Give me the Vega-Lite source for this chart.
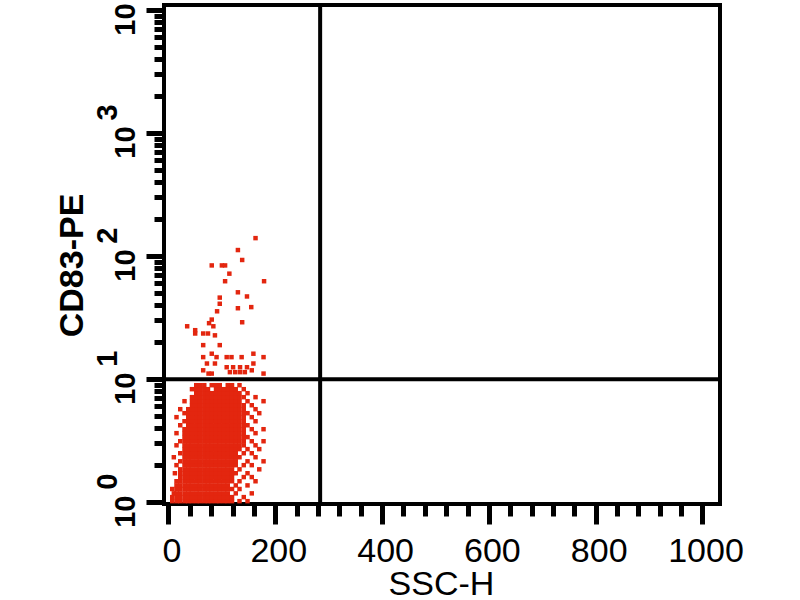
{
"$schema": "https://vega.github.io/schema/vega-lite/v6.json",
"width": 556, "height": 499,
"autosize": "none",
"padding": {"left": 164, "top": 5, "right": 80, "bottom": 96},
"background": "white",
"config": {"view": {"stroke": "black", "strokeWidth": 4}, "axis": {"grid": false, "domain": false, "tickColor": "black", "tickWidth": 5, "labelColor": "black", "titleColor": "black"}},
"resolve": {"axis": {"x": "independent", "y": "independent"}},
"layer": [
{
"data": {"values": [
{"ssc":7,"cd83":1.02},{"ssc":15,"cd83":1.02},{"ssc":22,"cd83":1.02},{"ssc":30,"cd83":1.02},{"ssc":37,"cd83":1.02},{"ssc":44,"cd83":1.02},{"ssc":52,"cd83":1.02},{"ssc":59,"cd83":1.02},{"ssc":67,"cd83":1.02},{"ssc":74,"cd83":1.02},{"ssc":81,"cd83":1.02},{"ssc":89,"cd83":1.02},{"ssc":96,"cd83":1.02},{"ssc":104,"cd83":1.02},{"ssc":111,"cd83":1.02},{"ssc":119,"cd83":1.02},{"ssc":133,"cd83":1.02},{"ssc":148,"cd83":1.02},
{"ssc":7,"cd83":1.1},{"ssc":15,"cd83":1.1},{"ssc":22,"cd83":1.1},{"ssc":30,"cd83":1.1},{"ssc":37,"cd83":1.1},{"ssc":44,"cd83":1.1},{"ssc":52,"cd83":1.1},{"ssc":59,"cd83":1.1},{"ssc":67,"cd83":1.1},{"ssc":74,"cd83":1.1},{"ssc":81,"cd83":1.1},{"ssc":89,"cd83":1.1},{"ssc":96,"cd83":1.1},{"ssc":104,"cd83":1.1},{"ssc":111,"cd83":1.1},{"ssc":119,"cd83":1.1},{"ssc":141,"cd83":1.1},
{"ssc":10,"cd83":1.18},{"ssc":15,"cd83":1.18},{"ssc":22,"cd83":1.18},{"ssc":30,"cd83":1.18},{"ssc":37,"cd83":1.18},{"ssc":44,"cd83":1.18},{"ssc":52,"cd83":1.18},{"ssc":59,"cd83":1.18},{"ssc":67,"cd83":1.18},{"ssc":74,"cd83":1.18},{"ssc":81,"cd83":1.18},{"ssc":89,"cd83":1.18},{"ssc":96,"cd83":1.18},{"ssc":104,"cd83":1.18},{"ssc":111,"cd83":1.18},{"ssc":126,"cd83":1.18},{"ssc":156,"cd83":1.18},
{"ssc":7,"cd83":1.28},{"ssc":15,"cd83":1.28},{"ssc":22,"cd83":1.28},{"ssc":30,"cd83":1.28},{"ssc":37,"cd83":1.28},{"ssc":44,"cd83":1.28},{"ssc":52,"cd83":1.28},{"ssc":59,"cd83":1.28},{"ssc":67,"cd83":1.28},{"ssc":74,"cd83":1.28},{"ssc":81,"cd83":1.28},{"ssc":89,"cd83":1.28},{"ssc":96,"cd83":1.28},{"ssc":104,"cd83":1.28},{"ssc":111,"cd83":1.28},{"ssc":119,"cd83":1.28},{"ssc":133,"cd83":1.28},
{"ssc":15,"cd83":1.37},{"ssc":22,"cd83":1.37},{"ssc":30,"cd83":1.37},{"ssc":37,"cd83":1.37},{"ssc":44,"cd83":1.37},{"ssc":52,"cd83":1.37},{"ssc":59,"cd83":1.37},{"ssc":67,"cd83":1.37},{"ssc":74,"cd83":1.37},{"ssc":81,"cd83":1.37},{"ssc":89,"cd83":1.37},{"ssc":96,"cd83":1.37},{"ssc":104,"cd83":1.37},{"ssc":111,"cd83":1.37},{"ssc":126,"cd83":1.37},{"ssc":148,"cd83":1.37},
{"ssc":15,"cd83":1.48},{"ssc":22,"cd83":1.48},{"ssc":30,"cd83":1.48},{"ssc":37,"cd83":1.48},{"ssc":44,"cd83":1.48},{"ssc":52,"cd83":1.48},{"ssc":59,"cd83":1.48},{"ssc":67,"cd83":1.48},{"ssc":74,"cd83":1.48},{"ssc":81,"cd83":1.48},{"ssc":89,"cd83":1.48},{"ssc":96,"cd83":1.48},{"ssc":104,"cd83":1.48},{"ssc":111,"cd83":1.48},{"ssc":119,"cd83":1.48},{"ssc":133,"cd83":1.48},{"ssc":163,"cd83":1.48},
{"ssc":22,"cd83":1.6},{"ssc":30,"cd83":1.6},{"ssc":37,"cd83":1.6},{"ssc":44,"cd83":1.6},{"ssc":52,"cd83":1.6},{"ssc":59,"cd83":1.6},{"ssc":67,"cd83":1.6},{"ssc":74,"cd83":1.6},{"ssc":81,"cd83":1.6},{"ssc":89,"cd83":1.6},{"ssc":96,"cd83":1.6},{"ssc":104,"cd83":1.6},{"ssc":111,"cd83":1.6},{"ssc":119,"cd83":1.6},{"ssc":141,"cd83":1.6},{"ssc":156,"cd83":1.6},
{"ssc":12,"cd83":1.72},{"ssc":22,"cd83":1.72},{"ssc":30,"cd83":1.72},{"ssc":37,"cd83":1.72},{"ssc":44,"cd83":1.72},{"ssc":52,"cd83":1.72},{"ssc":59,"cd83":1.72},{"ssc":67,"cd83":1.72},{"ssc":74,"cd83":1.72},{"ssc":81,"cd83":1.72},{"ssc":89,"cd83":1.72},{"ssc":96,"cd83":1.72},{"ssc":104,"cd83":1.72},{"ssc":111,"cd83":1.72},{"ssc":119,"cd83":1.72},{"ssc":126,"cd83":1.72},{"ssc":148,"cd83":1.72},
{"ssc":22,"cd83":1.85},{"ssc":30,"cd83":1.85},{"ssc":37,"cd83":1.85},{"ssc":44,"cd83":1.85},{"ssc":52,"cd83":1.85},{"ssc":59,"cd83":1.85},{"ssc":67,"cd83":1.85},{"ssc":74,"cd83":1.85},{"ssc":81,"cd83":1.85},{"ssc":89,"cd83":1.85},{"ssc":96,"cd83":1.85},{"ssc":104,"cd83":1.85},{"ssc":111,"cd83":1.85},{"ssc":119,"cd83":1.85},{"ssc":133,"cd83":1.85},{"ssc":170,"cd83":1.85},
{"ssc":15,"cd83":2.0},{"ssc":30,"cd83":2.0},{"ssc":37,"cd83":2.0},{"ssc":44,"cd83":2.0},{"ssc":52,"cd83":2.0},{"ssc":59,"cd83":2.0},{"ssc":67,"cd83":2.0},{"ssc":74,"cd83":2.0},{"ssc":81,"cd83":2.0},{"ssc":89,"cd83":2.0},{"ssc":96,"cd83":2.0},{"ssc":104,"cd83":2.0},{"ssc":111,"cd83":2.0},{"ssc":119,"cd83":2.0},{"ssc":126,"cd83":2.0},{"ssc":141,"cd83":2.0},{"ssc":156,"cd83":2.0},
{"ssc":22,"cd83":2.15},{"ssc":30,"cd83":2.15},{"ssc":37,"cd83":2.15},{"ssc":44,"cd83":2.15},{"ssc":52,"cd83":2.15},{"ssc":59,"cd83":2.15},{"ssc":67,"cd83":2.15},{"ssc":74,"cd83":2.15},{"ssc":81,"cd83":2.15},{"ssc":89,"cd83":2.15},{"ssc":96,"cd83":2.15},{"ssc":104,"cd83":2.15},{"ssc":111,"cd83":2.15},{"ssc":119,"cd83":2.15},{"ssc":126,"cd83":2.15},{"ssc":148,"cd83":2.15},{"ssc":178,"cd83":2.15},
{"ssc":10,"cd83":2.32},{"ssc":30,"cd83":2.32},{"ssc":37,"cd83":2.32},{"ssc":44,"cd83":2.32},{"ssc":52,"cd83":2.32},{"ssc":59,"cd83":2.32},{"ssc":67,"cd83":2.32},{"ssc":74,"cd83":2.32},{"ssc":81,"cd83":2.32},{"ssc":89,"cd83":2.32},{"ssc":96,"cd83":2.32},{"ssc":104,"cd83":2.32},{"ssc":111,"cd83":2.32},{"ssc":119,"cd83":2.32},{"ssc":126,"cd83":2.32},{"ssc":133,"cd83":2.32},{"ssc":163,"cd83":2.32},
{"ssc":22,"cd83":2.5},{"ssc":30,"cd83":2.5},{"ssc":37,"cd83":2.5},{"ssc":44,"cd83":2.5},{"ssc":52,"cd83":2.5},{"ssc":59,"cd83":2.5},{"ssc":67,"cd83":2.5},{"ssc":74,"cd83":2.5},{"ssc":81,"cd83":2.5},{"ssc":89,"cd83":2.5},{"ssc":96,"cd83":2.5},{"ssc":104,"cd83":2.5},{"ssc":111,"cd83":2.5},{"ssc":119,"cd83":2.5},{"ssc":126,"cd83":2.5},{"ssc":141,"cd83":2.5},{"ssc":156,"cd83":2.5},
{"ssc":30,"cd83":2.7},{"ssc":37,"cd83":2.7},{"ssc":44,"cd83":2.7},{"ssc":52,"cd83":2.7},{"ssc":59,"cd83":2.7},{"ssc":67,"cd83":2.7},{"ssc":74,"cd83":2.7},{"ssc":81,"cd83":2.7},{"ssc":89,"cd83":2.7},{"ssc":96,"cd83":2.7},{"ssc":104,"cd83":2.7},{"ssc":111,"cd83":2.7},{"ssc":119,"cd83":2.7},{"ssc":126,"cd83":2.7},{"ssc":133,"cd83":2.7},{"ssc":148,"cd83":2.7},{"ssc":170,"cd83":2.7},
{"ssc":15,"cd83":2.9},{"ssc":30,"cd83":2.9},{"ssc":37,"cd83":2.9},{"ssc":44,"cd83":2.9},{"ssc":52,"cd83":2.9},{"ssc":59,"cd83":2.9},{"ssc":67,"cd83":2.9},{"ssc":74,"cd83":2.9},{"ssc":81,"cd83":2.9},{"ssc":89,"cd83":2.9},{"ssc":96,"cd83":2.9},{"ssc":104,"cd83":2.9},{"ssc":111,"cd83":2.9},{"ssc":119,"cd83":2.9},{"ssc":126,"cd83":2.9},{"ssc":133,"cd83":2.9},{"ssc":141,"cd83":2.9},{"ssc":163,"cd83":2.9},
{"ssc":22,"cd83":3.13},{"ssc":30,"cd83":3.13},{"ssc":37,"cd83":3.13},{"ssc":44,"cd83":3.13},{"ssc":52,"cd83":3.13},{"ssc":59,"cd83":3.13},{"ssc":67,"cd83":3.13},{"ssc":74,"cd83":3.13},{"ssc":81,"cd83":3.13},{"ssc":89,"cd83":3.13},{"ssc":96,"cd83":3.13},{"ssc":104,"cd83":3.13},{"ssc":111,"cd83":3.13},{"ssc":119,"cd83":3.13},{"ssc":126,"cd83":3.13},{"ssc":133,"cd83":3.13},{"ssc":141,"cd83":3.13},{"ssc":156,"cd83":3.13},{"ssc":178,"cd83":3.13},
{"ssc":30,"cd83":3.38},{"ssc":37,"cd83":3.38},{"ssc":44,"cd83":3.38},{"ssc":52,"cd83":3.38},{"ssc":59,"cd83":3.38},{"ssc":67,"cd83":3.38},{"ssc":74,"cd83":3.38},{"ssc":81,"cd83":3.38},{"ssc":89,"cd83":3.38},{"ssc":96,"cd83":3.38},{"ssc":104,"cd83":3.38},{"ssc":111,"cd83":3.38},{"ssc":119,"cd83":3.38},{"ssc":126,"cd83":3.38},{"ssc":133,"cd83":3.38},{"ssc":141,"cd83":3.38},{"ssc":148,"cd83":3.38},
{"ssc":15,"cd83":3.64},{"ssc":30,"cd83":3.64},{"ssc":37,"cd83":3.64},{"ssc":44,"cd83":3.64},{"ssc":52,"cd83":3.64},{"ssc":59,"cd83":3.64},{"ssc":67,"cd83":3.64},{"ssc":74,"cd83":3.64},{"ssc":81,"cd83":3.64},{"ssc":89,"cd83":3.64},{"ssc":96,"cd83":3.64},{"ssc":104,"cd83":3.64},{"ssc":111,"cd83":3.64},{"ssc":119,"cd83":3.64},{"ssc":126,"cd83":3.64},{"ssc":133,"cd83":3.64},{"ssc":141,"cd83":3.64},{"ssc":163,"cd83":3.64},
{"ssc":30,"cd83":3.92},{"ssc":37,"cd83":3.92},{"ssc":44,"cd83":3.92},{"ssc":52,"cd83":3.92},{"ssc":59,"cd83":3.92},{"ssc":67,"cd83":3.92},{"ssc":74,"cd83":3.92},{"ssc":81,"cd83":3.92},{"ssc":89,"cd83":3.92},{"ssc":96,"cd83":3.92},{"ssc":104,"cd83":3.92},{"ssc":111,"cd83":3.92},{"ssc":119,"cd83":3.92},{"ssc":126,"cd83":3.92},{"ssc":133,"cd83":3.92},{"ssc":141,"cd83":3.92},{"ssc":156,"cd83":3.92},{"ssc":178,"cd83":3.92},
{"ssc":22,"cd83":4.22},{"ssc":37,"cd83":4.22},{"ssc":44,"cd83":4.22},{"ssc":52,"cd83":4.22},{"ssc":59,"cd83":4.22},{"ssc":67,"cd83":4.22},{"ssc":74,"cd83":4.22},{"ssc":81,"cd83":4.22},{"ssc":89,"cd83":4.22},{"ssc":96,"cd83":4.22},{"ssc":104,"cd83":4.22},{"ssc":111,"cd83":4.22},{"ssc":119,"cd83":4.22},{"ssc":126,"cd83":4.22},{"ssc":133,"cd83":4.22},{"ssc":141,"cd83":4.22},{"ssc":148,"cd83":4.22},
{"ssc":30,"cd83":4.55},{"ssc":37,"cd83":4.55},{"ssc":44,"cd83":4.55},{"ssc":52,"cd83":4.55},{"ssc":59,"cd83":4.55},{"ssc":67,"cd83":4.55},{"ssc":74,"cd83":4.55},{"ssc":81,"cd83":4.55},{"ssc":89,"cd83":4.55},{"ssc":96,"cd83":4.55},{"ssc":104,"cd83":4.55},{"ssc":111,"cd83":4.55},{"ssc":119,"cd83":4.55},{"ssc":126,"cd83":4.55},{"ssc":133,"cd83":4.55},{"ssc":141,"cd83":4.55},{"ssc":163,"cd83":4.55},
{"ssc":15,"cd83":4.91},{"ssc":37,"cd83":4.91},{"ssc":44,"cd83":4.91},{"ssc":52,"cd83":4.91},{"ssc":59,"cd83":4.91},{"ssc":67,"cd83":4.91},{"ssc":74,"cd83":4.91},{"ssc":81,"cd83":4.91},{"ssc":89,"cd83":4.91},{"ssc":96,"cd83":4.91},{"ssc":104,"cd83":4.91},{"ssc":111,"cd83":4.91},{"ssc":119,"cd83":4.91},{"ssc":126,"cd83":4.91},{"ssc":133,"cd83":4.91},{"ssc":141,"cd83":4.91},{"ssc":156,"cd83":4.91},
{"ssc":30,"cd83":5.29},{"ssc":37,"cd83":5.29},{"ssc":44,"cd83":5.29},{"ssc":52,"cd83":5.29},{"ssc":59,"cd83":5.29},{"ssc":67,"cd83":5.29},{"ssc":74,"cd83":5.29},{"ssc":81,"cd83":5.29},{"ssc":89,"cd83":5.29},{"ssc":96,"cd83":5.29},{"ssc":104,"cd83":5.29},{"ssc":111,"cd83":5.29},{"ssc":119,"cd83":5.29},{"ssc":126,"cd83":5.29},{"ssc":133,"cd83":5.29},{"ssc":141,"cd83":5.29},{"ssc":148,"cd83":5.29},{"ssc":170,"cd83":5.29},
{"ssc":22,"cd83":5.7},{"ssc":37,"cd83":5.7},{"ssc":44,"cd83":5.7},{"ssc":52,"cd83":5.7},{"ssc":59,"cd83":5.7},{"ssc":67,"cd83":5.7},{"ssc":74,"cd83":5.7},{"ssc":81,"cd83":5.7},{"ssc":89,"cd83":5.7},{"ssc":96,"cd83":5.7},{"ssc":104,"cd83":5.7},{"ssc":111,"cd83":5.7},{"ssc":119,"cd83":5.7},{"ssc":126,"cd83":5.7},{"ssc":133,"cd83":5.7},{"ssc":141,"cd83":5.7},{"ssc":163,"cd83":5.7},
{"ssc":44,"cd83":6.14},{"ssc":52,"cd83":6.14},{"ssc":59,"cd83":6.14},{"ssc":67,"cd83":6.14},{"ssc":74,"cd83":6.14},{"ssc":81,"cd83":6.14},{"ssc":89,"cd83":6.14},{"ssc":96,"cd83":6.14},{"ssc":104,"cd83":6.14},{"ssc":111,"cd83":6.14},{"ssc":119,"cd83":6.14},{"ssc":126,"cd83":6.14},{"ssc":133,"cd83":6.14},{"ssc":141,"cd83":6.14},{"ssc":156,"cd83":6.14},
{"ssc":30,"cd83":6.62},{"ssc":44,"cd83":6.62},{"ssc":52,"cd83":6.62},{"ssc":59,"cd83":6.62},{"ssc":67,"cd83":6.62},{"ssc":74,"cd83":6.62},{"ssc":81,"cd83":6.62},{"ssc":89,"cd83":6.62},{"ssc":96,"cd83":6.62},{"ssc":104,"cd83":6.62},{"ssc":111,"cd83":6.62},{"ssc":119,"cd83":6.62},{"ssc":126,"cd83":6.62},{"ssc":133,"cd83":6.62},{"ssc":148,"cd83":6.62},{"ssc":178,"cd83":6.62},
{"ssc":44,"cd83":7.14},{"ssc":52,"cd83":7.14},{"ssc":59,"cd83":7.14},{"ssc":67,"cd83":7.14},{"ssc":74,"cd83":7.14},{"ssc":81,"cd83":7.14},{"ssc":89,"cd83":7.14},{"ssc":96,"cd83":7.14},{"ssc":104,"cd83":7.14},{"ssc":111,"cd83":7.14},{"ssc":119,"cd83":7.14},{"ssc":126,"cd83":7.14},{"ssc":133,"cd83":7.14},{"ssc":141,"cd83":7.14},{"ssc":163,"cd83":7.14},
{"ssc":52,"cd83":7.69},{"ssc":59,"cd83":7.69},{"ssc":67,"cd83":7.69},{"ssc":74,"cd83":7.69},{"ssc":81,"cd83":7.69},{"ssc":89,"cd83":7.69},{"ssc":96,"cd83":7.69},{"ssc":104,"cd83":7.69},{"ssc":111,"cd83":7.69},{"ssc":119,"cd83":7.69},{"ssc":126,"cd83":7.69},{"ssc":133,"cd83":7.69},{"ssc":148,"cd83":7.69},
{"ssc":44,"cd83":8.29},{"ssc":52,"cd83":8.29},{"ssc":59,"cd83":8.29},{"ssc":67,"cd83":8.29},{"ssc":74,"cd83":8.29},{"ssc":89,"cd83":8.29},{"ssc":96,"cd83":8.29},{"ssc":104,"cd83":8.29},{"ssc":111,"cd83":8.29},{"ssc":119,"cd83":8.29},{"ssc":126,"cd83":8.29},{"ssc":141,"cd83":8.29},
{"ssc":52,"cd83":8.93},{"ssc":59,"cd83":8.93},{"ssc":67,"cd83":8.93},{"ssc":81,"cd83":8.93},{"ssc":89,"cd83":8.93},{"ssc":96,"cd83":8.93},{"ssc":111,"cd83":8.93},{"ssc":119,"cd83":8.93},{"ssc":133,"cd83":8.93},
{"ssc":163,"cd83":140},{"ssc":130,"cd83":112},{"ssc":138,"cd83":93},{"ssc":81,"cd83":84},{"ssc":100,"cd83":84},{"ssc":106,"cd83":84},{"ssc":114,"cd83":72},{"ssc":106,"cd83":62.5},{"ssc":179,"cd83":62.5},{"ssc":130,"cd83":50.8},{"ssc":147,"cd83":47},{"ssc":96,"cd83":46},{"ssc":96,"cd83":41},{"ssc":130,"cd83":37.7},{"ssc":155,"cd83":38.5},{"ssc":91,"cd83":35.6},{"ssc":138,"cd83":29},{"ssc":81,"cd83":30.5},{"ssc":76,"cd83":28.5},{"ssc":84,"cd83":26.9},{"ssc":35,"cd83":26.9},{"ssc":50,"cd83":25},{"ssc":50,"cd83":23.5},{"ssc":65,"cd83":23.5},{"ssc":74,"cd83":23.5},{"ssc":87,"cd83":22.7},{"ssc":65,"cd83":18.9},{"ssc":96,"cd83":18.9},
{"ssc":65,"cd83":15.1},{"ssc":81,"cd83":16.1},{"ssc":90,"cd83":15.1},{"ssc":109,"cd83":15.1},{"ssc":118,"cd83":15.1},{"ssc":137,"cd83":15.1},{"ssc":159,"cd83":16.1},{"ssc":178,"cd83":15.1},{"ssc":72,"cd83":13.4},{"ssc":87,"cd83":13.4},{"ssc":109,"cd83":12.5},{"ssc":121,"cd83":12.5},{"ssc":134,"cd83":12.5},{"ssc":147,"cd83":12.5},{"ssc":159,"cd83":13.4},{"ssc":65,"cd83":11.8},{"ssc":75,"cd83":11.1},{"ssc":81,"cd83":11.1},{"ssc":115,"cd83":11.4},{"ssc":125,"cd83":11.4},{"ssc":134,"cd83":11.4},{"ssc":143,"cd83":11.4},{"ssc":156,"cd83":11.8},{"ssc":178,"cd83":11.1}
]},
"mark": {"type": "point", "shape": "square", "filled": true, "size": 20, "color": "#e3260f", "opacity": 1, "clip": true},
"encoding": {
"x": {"field": "ssc", "type": "quantitative", "scale": {"domain": [-8.4, 1032.8], "nice": false, "zero": false},
"axis": {"orient": "bottom", "values": [0,200,400,600,800,1000], "format": "d", "tickSize": 20, "labelFont": "Liberation Sans", "labelFontSize": 34, "labelBaseline": "alphabetic", "labelPadding": 37, "labelOffset": 3, "labelFlush": false, "labelOverlap": false, "title": "SSC-H", "titleFont": "Liberation Sans", "titleFontSize": 34, "titleFontWeight": "normal", "titleBaseline": "alphabetic", "titleX": 277, "titleY": 90}},
"y": {"field": "cd83", "type": "quantitative", "scale": {"type": "log", "domain": [0.967, 10981], "nice": false},
"axis": {"orient": "left", "values": [1,10,100,1000,10000], "tickSize": 18, "labelExpr": "'10'", "labelAngle": 270, "labelAlign": "center", "labelBaseline": "alphabetic", "labelFont": "Liberation Sans", "labelFontWeight": "bold", "labelFontSize": 29, "labelPadding": 12, "labelOffset": 9, "labelFlush": false, "labelOverlap": false, "title": "CD83-PE", "titleAngle": 270, "titleAlign": "center", "titleBaseline": "alphabetic", "titleFont": "Liberation Sans", "titleFontWeight": "bold", "titleFontSize": 34, "titleX": -82, "titleY": 260}}
}
},
{
"data": {"values": [{"cd83": 10}]},
"mark": {"type": "rule", "color": "black", "strokeWidth": 4},
"encoding": {
"y": {"field": "cd83", "type": "quantitative", "scale": {"type": "log", "domain": [0.967, 10981], "nice": false},
"axis": {"orient": "left", "values": [1,2,3,4,5,6,7,8,9,10,20,30,40,50,60,70,80,90,100,200,300,400,500,600,700,800,900,1000,2000,3000,4000,5000,6000,7000,8000,9000,10000], "tickSize": 10, "labelExpr": "datum.value == 1 ? '0' : datum.value == 10 ? '1' : datum.value == 100 ? '2' : datum.value == 1000 ? '3' : datum.value == 10000 ? '4' : ''", "labelAngle": 270, "labelAlign": "center", "labelBaseline": "alphabetic", "labelFont": "Liberation Sans", "labelFontWeight": "bold", "labelFontSize": 29, "labelPadding": 38, "labelOffset": -21, "labelFlush": false, "labelOverlap": false, "title": null}}
}
},
{
"data": {"values": [{"ssc": 284}]},
"mark": {"type": "rule", "color": "black", "strokeWidth": 4},
"encoding": {
"x": {"field": "ssc", "type": "quantitative", "scale": {"domain": [-8.4, 1032.8], "nice": false, "zero": false},
"axis": {"orient": "bottom", "values": [0,40,80,120,160,200,240,280,320,360,400,440,480,520,560,600,640,680,720,760,800,840,880,920,960,1000], "tickSize": 12, "labels": false, "title": null}}
}
}
]
}
